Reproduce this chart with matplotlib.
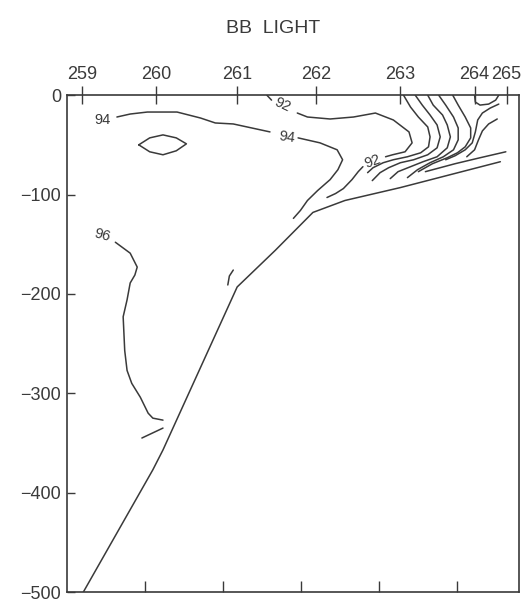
import matplotlib.pyplot as plt
import numpy as np

plt.rcParams['font.family'] = ['Liberation Sans', 'DejaVu Sans']

# stations along the top, placed on the distance axis
stations = ['259', '260', '261', '262', '263', '264', '265']
station_dist = [0.19, 1.14, 2.18, 3.19, 4.27, 5.22, 5.63]

dist_ticks = [1, 2, 3, 4, 5]
depth_ticks = [0, -100, -200, -300, -400, -500]

# bottom profile
bottom_dist = [0.21, 1.10, 1.23, 2.18, 2.67, 3.15, 3.56, 4.27, 4.91, 5.55]
bottom_depth = [-500, -377, -357, -193, -156, -118, -106, -93, -80, -67]

# contour traces (distance, depth)
c94a_dist = [0.64, 0.81, 1.03, 1.41, 1.71, 1.90, 2.13, 2.60]
c94a_depth = [-22, -19, -17, -17, -23, -28, -29, -37]
c94b_dist = [2.96, 3.24, 3.46, 3.53, 3.47, 3.37, 3.21, 3.08, 2.99, 2.90]
c94b_depth = [-43, -48, -55, -65, -75, -85, -96, -106, -116, -124]

c94_ring_dist = [0.92, 1.06, 1.23, 1.40, 1.53, 1.40, 1.23, 1.06, 0.92]
c94_ring_depth = [-50, -43, -40, -43, -49, -56, -60, -57, -50]

c92a_dist = [2.56, 2.62]
c92a_depth = [0, -5]
c92b_dist = [2.95, 3.08, 3.37, 3.67, 3.95, 4.18, 4.38, 4.42, 4.33, 4.17, 4.08]
c92b_depth = [-18, -22, -24, -22, -18, -25, -37, -48, -57, -60, -62]
c92c_dist = [3.79, 3.73, 3.65, 3.54, 3.44, 3.33]
c92c_depth = [-72, -77, -85, -94, -99, -103]

c96_dist = [0.62, 0.81, 0.90, 0.87, 0.81, 0.77, 0.72, 0.74, 0.77, 0.83, 0.94, 1.04, 1.10, 1.23]
c96_depth = [-148, -159, -173, -181, -189, -206, -223, -257, -277, -290, -304, -320, -325, -327]

b1_dist = [4.31, 4.40, 4.50, 4.62, 4.65, 4.63, 4.53, 4.36, 4.18, 4.05, 3.92, 3.85]
b1_depth = [0, -12, -22, -32, -42, -52, -58, -62, -65, -68, -73, -78]
b2_dist = [4.46, 4.55, 4.65, 4.74, 4.78, 4.74, 4.62, 4.44, 4.27, 4.12, 4.01, 3.91]
b2_depth = [0, -10, -20, -30, -42, -53, -60, -65, -68, -73, -78, -86]
b3_dist = [4.62, 4.69, 4.81, 4.87, 4.91, 4.87, 4.74, 4.56, 4.40, 4.24, 4.14]
b3_depth = [0, -10, -20, -30, -42, -53, -62, -67, -72, -77, -84]
b4_dist = [4.76, 4.85, 4.95, 5.01, 5.01, 4.95, 4.82, 4.65, 4.49, 4.36]
b4_depth = [0, -10, -22, -33, -45, -55, -62, -68, -75, -83]
b5_dist = [4.94, 5.01, 5.10, 5.17, 5.17, 5.10, 5.00, 4.87, 4.68, 4.50]
b5_depth = [0, -10, -22, -33, -43, -52, -58, -63, -69, -77]

r1_dist = [5.53, 5.42, 5.32, 5.26, 5.23, 5.19, 5.10, 4.97, 4.85]
r1_depth = [-9, -13, -18, -25, -37, -48, -55, -61, -65]
r2_dist = [5.51, 5.40, 5.32, 5.27, 5.22, 5.12]
r2_depth = [-24, -29, -36, -45, -55, -62]
r3_dist = [4.59, 4.78, 4.97, 5.29, 5.62]
r3_depth = [-77, -73, -69, -63, -57]

loop264_dist = [5.22, 5.23, 5.29, 5.40, 5.49, 5.53]
loop264_depth = [0, -7, -10, -9, -5, 0]

bit1_dist = [2.13, 2.08, 2.06]
bit1_depth = [-176, -182, -191]
bit2_dist = [0.96, 1.23]
bit2_depth = [-345, -335]

label_text = ['94', '94', '92', '92', '96']
label_dist = [0.46, 2.82, 2.76, 3.91, 0.45]
label_depth = [-25, -42, -10, -67, -141]
label_rot = [0, -8, -25, 20, -15]

traces = [
    (bottom_dist, bottom_depth),
    (c94a_dist, c94a_depth), (c94b_dist, c94b_depth),
    (c94_ring_dist, c94_ring_depth),
    (c92a_dist, c92a_depth), (c92b_dist, c92b_depth), (c92c_dist, c92c_depth),
    (c96_dist, c96_depth),
    (b1_dist, b1_depth), (b2_dist, b2_depth), (b3_dist, b3_depth),
    (b4_dist, b4_depth), (b5_dist, b5_depth),
    (r1_dist, r1_depth), (r2_dist, r2_depth), (r3_dist, r3_depth),
    (loop264_dist, loop264_depth),
    (bit1_dist, bit1_depth), (bit2_dist, bit2_depth),
]

ink = '#3a3a3a'

fig = plt.figure(figsize=(5.27, 6.06), dpi=100)
ax = fig.add_axes([0.127, 0.023, 0.858, 0.820])

for xs, ys in traces:
    ax.plot(xs, ys, color=ink, lw=1.1, solid_capstyle='round', solid_joinstyle='round')

for t, x, y, r in zip(label_text, label_dist, label_depth, label_rot):
    ax.text(x, y, t, fontsize=10.5, color=ink, rotation=r, ha='center', va='center')

ax.set_xlim(0, 5.79)
ax.set_ylim(-500, 0)

ax.set_xticks(dist_ticks)
ax.set_xticklabels([])
ax.tick_params(axis='x', direction='in', length=8, width=1, color=ink)
ax.set_yticks(depth_ticks)
ax.set_yticklabels([str(v).replace('-', '\u2212') for v in depth_ticks])
ax.tick_params(axis='y', direction='in', length=6, width=1, color=ink,
               labelsize=13, labelcolor=ink, pad=4)

top = ax.secondary_xaxis('top')
top.set_xticks(station_dist)
top.set_xticklabels(stations)
top.tick_params(direction='inout', length=13, width=1, color=ink,
                labelsize=13, labelcolor=ink, pad=2)
top.spines['top'].set_visible(False)

for s in ax.spines.values():
    s.set_color(ink)
    s.set_linewidth(1.2)

fig.text(0.518, 0.953, 'BB  LIGHT', ha='center', va='center', fontsize=14, color=ink)

fig.savefig('out.png', dpi=100)
